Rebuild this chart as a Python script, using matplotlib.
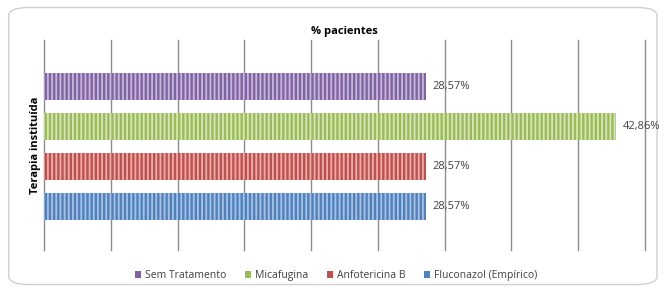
import matplotlib
matplotlib.use('Agg')

import numpy as np
import matplotlib.pyplot as plt
from matplotlib.patches import FancyBboxPatch

# series (bottom to top as drawn)
series = ['Fluconazol (Empírico)', 'Anfotericina B', 'Micafugina', 'Sem Tratamento']
values = [28.57, 28.57, 42.86, 28.57]
labels = ['28,57%', '28,57%', '42,86%', '28,57%']
colors = ['#4F81BD', '#C0504D', '#9BBB59', '#8064A2']
stripes = ['#A8C2E3', '#E8AFAD', '#D6E6B8', '#C6B8DA']

plt.rcParams['font.family'] = ['Open Sans', 'DejaVu Sans']
plt.rcParams['hatch.linewidth'] = 1.3

fig = plt.figure(figsize=(6.65, 2.88), dpi=100)

# rounded chart border
fig.patches.append(FancyBboxPatch((0.013, 0.012), 0.975, 0.962,
                                  boxstyle='round,pad=0,rounding_size=0.03',
                                  transform=fig.transFigure, fc='none',
                                  ec='#D0D0D0', lw=1.0, zorder=-1))

ax = fig.add_axes([0.0662, 0.132, 0.9038, 0.729])
ax.set_facecolor('none')

ypos = np.arange(len(series))
bars = []
for y, v, c, s, name in zip(ypos, values, colors, stripes, series):
    b = ax.barh(y, v, height=0.675, color=c, edgecolor=s, hatch='||||',
                lw=0, label=name, zorder=2)
    bars.append(b)

for y, v, t in zip(ypos, values, labels):
    ax.text(v + 0.5, y, t, va='center', ha='left', fontsize=8,
            color='#404040', zorder=3)

ax.set_xlim(0, 45)
ax.set_ylim(-1.1, 4.16)
for x in np.arange(0, 46, 5):
    ax.axvline(x, color='#8C8C8C', lw=1.0, zorder=1, clip_on=False)
ax.tick_params(left=False, bottom=False, labelleft=False, labelbottom=False)
for sp in ax.spines.values():
    sp.set_visible(False)

ax.set_title('% pacientes', fontsize=8, fontweight='bold', pad=4)
ax.set_ylabel('Terapia instituída', fontsize=8, fontweight='bold', labelpad=2)

handles = [bars[i] for i in [3, 2, 1, 0]]
leg = fig.legend(handles, [series[i] for i in [3, 2, 1, 0]],
                 loc='center', bbox_to_anchor=(0.505, 0.042), ncol=4,
                 frameon=False, fontsize=7.5, handlelength=0.6,
                 handleheight=0.6, handletextpad=0.35, columnspacing=1.8)
for h, c in zip(leg.legend_handles, [colors[i] for i in [3, 2, 1, 0]]):
    h.set_hatch(None)
    h.set_facecolor(c)
for t in leg.get_texts():
    t.set_color('#404040')

fig.savefig('out.png', dpi=100)
